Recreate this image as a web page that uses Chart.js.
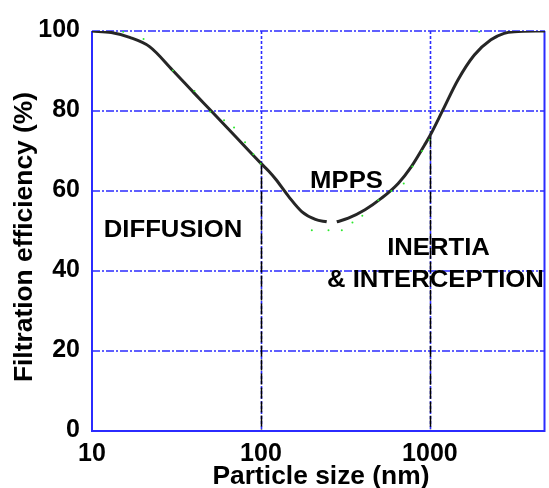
<!DOCTYPE html>
<html>
<head>
<meta charset="utf-8">
<script src="https://cdn.jsdelivr.net/npm/chart.js@4.4.1/dist/chart.umd.min.js"></script>
<style>
  html, body { margin: 0; padding: 0; background: #fff; }
</style>
</head>
<body>
<canvas id="filterChart" width="549" height="488"></canvas>
<script>
// curva de eficiência (null = quebra da linha no mínimo)
const particleSize = [10, 13, 16.7, 21.9, 30, 40, 50, 70, 100, 111, 122, 146, 175, 210, 245, 263, 281, 329, 413, 517, 649, 777, 930, 1000, 1192, 1462, 1832, 2296, 2750, 3150, 4800];
const efficiency   = [100, 99.6, 98.4, 96.1, 90.2, 84.6, 80.3, 73.8, 66.9, 65.0, 63.0, 58.6, 54.8, 52.9, 52.3, null, 52.3, 53.2, 55.3, 58.2, 61.9, 66.1, 71.5, 73.8, 80.2, 87.7, 94, 97.8, 99.4, 99.8, 100];

// pontinhos verdes
const measuredSize = [15.3, 20.2, 30.1, 40.4, 50.1, 60.5, 69.3, 80.5, 90.2, 99.5, 200, 251, 301, 348, 398, 495, 592, 700, 787, 898, 995, 1960];
const measuredEff  = [99.8, 98, 90.1, 85, 79.8, 77.7, 75.9, 72.2, 69.2, 66.8, 50.2, 50.2, 50.2, 52.1, 53.8, 57.7, 60, 61.9, 66.1, 70, 72.8, 99.8];

const xTicks = [10, 100, 1000];
const yTicks = [0, 20, 40, 60, 80, 100];
const xMarkers = [100, 1000];

const xTitle = 'Particle size (nm)';
const yTitle = 'Filtration efficiency (%)';
const regionLabels = ['DIFFUSION', 'MPPS', 'INERTIA', '& INTERCEPTION'];

const BLUE = '#2b2bff';
const FONT = '"Liberation Sans", Arial, sans-serif';

// grade azul tracejada + linhas pretas
const gridPlugin = {
  id: 'gridPlugin',
  beforeDatasetsDraw(chart) {
    const ctx = chart.ctx;
    const area = chart.chartArea;
    const xs = chart.scales.x, ys = chart.scales.y;
    ctx.save();
    ctx.lineWidth = 1.6;
    ctx.strokeStyle = BLUE;
    ctx.setLineDash([8, 2, 2, 2]);
    yTicks.forEach(v => {
      if (v === 0) return;
      const py = ys.getPixelForValue(v);
      ctx.beginPath(); ctx.moveTo(area.left, py); ctx.lineTo(area.right, py); ctx.stroke();
    });
    xMarkers.forEach(v => {
      const px = Math.round(xs.getPixelForValue(v)) + 0.5;
      ctx.lineWidth = 1.6;
      ctx.setLineDash([3, 2]);
      ctx.strokeStyle = BLUE;
      ctx.beginPath(); ctx.moveTo(px, area.top); ctx.lineTo(px, area.bottom); ctx.stroke();
      // abaixo da curva: tracejado preto
      const yv = efficiency[particleSize.indexOf(v)];
      ctx.lineWidth = 1.5;
      ctx.setLineDash([11, 3]);
      ctx.strokeStyle = '#000';
      ctx.beginPath(); ctx.moveTo(px, ys.getPixelForValue(yv)); ctx.lineTo(px, area.bottom); ctx.stroke();
    });
    // eixos
    ctx.setLineDash([]);
    ctx.strokeStyle = BLUE;
    ctx.lineWidth = 2;
    ctx.beginPath();
    ctx.moveTo(area.left, area.top); ctx.lineTo(area.left, area.bottom);
    ctx.lineTo(area.right - 0.5, area.bottom); ctx.lineTo(area.right - 0.5, area.top);
    ctx.stroke();
    ctx.restore();
  }
};

function drawStretched(ctx, text, x, y, size, stretch, align, rotate) {
  ctx.save();
  ctx.font = 'bold ' + size + 'px ' + FONT;
  ctx.fillStyle = '#000';
  ctx.textAlign = align;
  ctx.textBaseline = 'alphabetic';
  ctx.translate(x, y);
  if (rotate) ctx.rotate(-Math.PI / 2);
  ctx.scale(stretch, 1);
  ctx.fillText(text, 0, 0);
  ctx.restore();
}

const textPlugin = {
  id: 'textPlugin',
  afterDraw(chart) {
    const ctx = chart.ctx;
    drawStretched(ctx, xTitle, 321, 484, 25, 1.055, 'center', false);
    drawStretched(ctx, yTitle, 32, 237, 25, 1.055, 'center', true);
    drawStretched(ctx, regionLabels[0], 173, 237, 24, 1.07, 'center', false);
    drawStretched(ctx, regionLabels[1], 346.5, 188, 24, 1.07, 'center', false);
    drawStretched(ctx, regionLabels[2], 438.5, 255, 24, 1.07, 'center', false);
    drawStretched(ctx, regionLabels[3], 327, 287, 24, 1.07, 'left', false);
  }
};

const curveData = particleSize.map((s, i) => ({ x: s, y: efficiency[i] }));
const measuredData = measuredSize.map((s, i) => ({ x: s, y: measuredEff[i] }));

const config = {
  type: 'scatter',
  data: {
    datasets: [
      {
        label: 'Measured',
        data: measuredData,
        showLine: false,
        pointRadius: 1,
        pointBorderWidth: 0,
        pointBackgroundColor: '#2ee82e',
        order: 0
      },
      {
        label: 'Efficiency',
        data: curveData,
        showLine: true,
        spanGaps: false,
        borderColor: '#262626',
        borderWidth: 3,
        pointRadius: 0,
        cubicInterpolationMode: 'monotone',
        order: 1
      }
    ]
  },
  options: {
    responsive: false,
    animation: false,
    layout: { padding: { top: 31, right: 1, left: 0, bottom: 0 } },
    plugins: {
      legend: { display: false },
      tooltip: { enabled: false }
    },
    scales: {
      x: {
        type: 'logarithmic',
        min: 10,
        max: 4800,
        grid: { display: false, drawTicks: false },
        border: { display: false },
        afterBuildTicks: s => { s.ticks = xTicks.map(v => ({ value: v })); },
        afterFit: s => { s.height = 57; },
        ticks: {
          autoSkip: false,
          maxRotation: 0,
          padding: 8,
          color: '#000',
          font: { family: FONT, size: 25, weight: 'bold' },
          callback: v => String(v)
        }
      },
      y: {
        min: 0,
        max: 100,
        grid: { display: false, drawTicks: false },
        border: { display: false },
        afterBuildTicks: s => { s.ticks = yTicks.map(v => ({ value: v })); },
        afterFit: s => { s.width = 92; },
        ticks: {
          padding: 12,
          labelOffset: -1,
          color: '#000',
          font: { family: FONT, size: 25, weight: 'bold' }
        }
      }
    }
  },
  plugins: [gridPlugin, textPlugin]
};

const filterChart = new Chart(document.getElementById('filterChart'), config);
</script>
</body>
</html>
